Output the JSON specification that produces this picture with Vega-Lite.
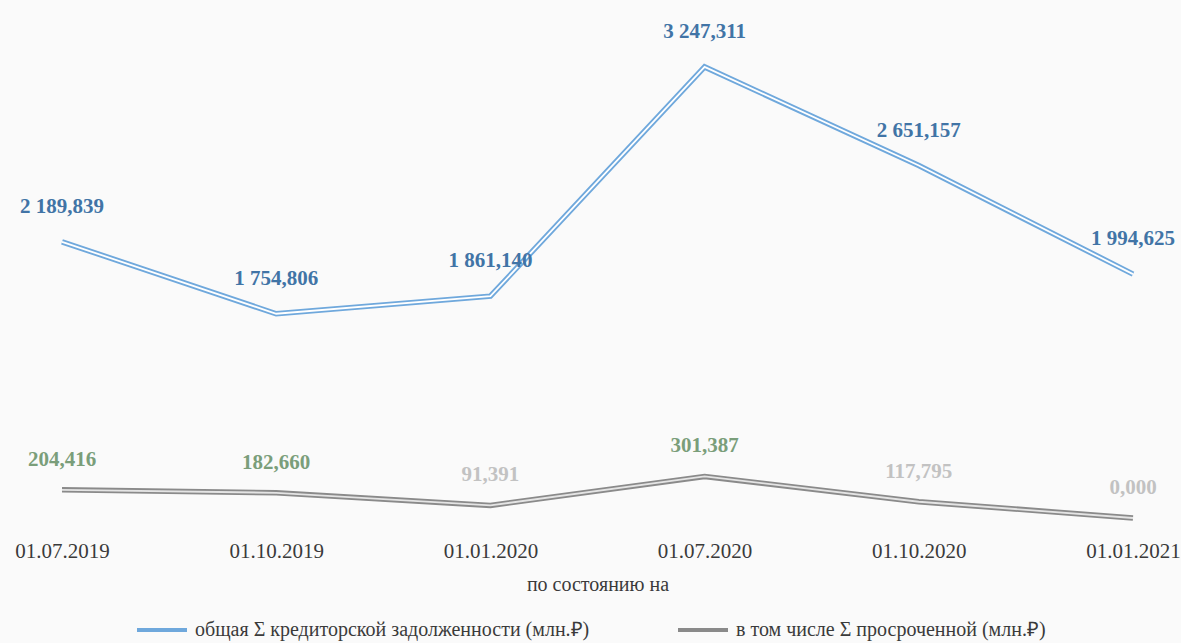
{
  "$schema": "https://vega.github.io/schema/vega-lite/v6.json",
  "width": 1181,
  "height": 538,
  "autosize": {"type": "none"},
  "padding": {"left": 0, "top": 0, "right": 0, "bottom": 105},
  "background": "#fafafa",
  "config": {
    "view": {"stroke": null},
    "locale": {"number": {"decimal": ",", "thousands": " ", "grouping": [3], "currency": ["", ""]}},
    "font": "Liberation Serif"
  },
  "data": {
    "values": [
      {"date": "01.07.2019", "series": "общая Σ кредиторской задолженности (млн.₽)", "value": 2189.839},
      {"date": "01.10.2019", "series": "общая Σ кредиторской задолженности (млн.₽)", "value": 1754.806},
      {"date": "01.01.2020", "series": "общая Σ кредиторской задолженности (млн.₽)", "value": 1861.140},
      {"date": "01.07.2020", "series": "общая Σ кредиторской задолженности (млн.₽)", "value": 3247.311},
      {"date": "01.10.2020", "series": "общая Σ кредиторской задолженности (млн.₽)", "value": 2651.157},
      {"date": "01.01.2021", "series": "общая Σ кредиторской задолженности (млн.₽)", "value": 1994.625},
      {"date": "01.07.2019", "series": "в том числе Σ просроченной (млн.₽)", "value": 204.416},
      {"date": "01.10.2019", "series": "в том числе Σ просроченной (млн.₽)", "value": 182.660},
      {"date": "01.01.2020", "series": "в том числе Σ просроченной (млн.₽)", "value": 91.391},
      {"date": "01.07.2020", "series": "в том числе Σ просроченной (млн.₽)", "value": 301.387},
      {"date": "01.10.2020", "series": "в том числе Σ просроченной (млн.₽)", "value": 117.795},
      {"date": "01.01.2021", "series": "в том числе Σ просроченной (млн.₽)", "value": 0.000}
    ]
  },
  "encoding": {
    "x": {
      "field": "date", "type": "ordinal", "sort": null,
      "scale": {"type": "point", "range": [62, 1133], "padding": 0},
      "axis": {
        "domain": false, "ticks": false, "labelAngle": 0,
        "labelFont": "Liberation Serif", "labelFontSize": 21, "labelColor": "#3a3a3a",
        "labelPadding": 2,
        "title": "по состоянию на", "titleFont": "Liberation Serif", "titleFontSize": 20,
        "titleFontWeight": "normal", "titleColor": "#3a3a3a", "titlePadding": 13
      }
    }
  },
  "resolve": {"scale": {"y": "independent"}},
  "layer": [
    {
      "transform": [{"filter": {"field": "series", "equal": "общая Σ кредиторской задолженности (млн.₽)"}}],
      "encoding": {
        "y": {"field": "value", "type": "quantitative",
              "scale": {"domain": [399, 3652], "nice": false, "zero": false}, "axis": null}
      },
      "layer": [
        {
          "mark": {"type": "line", "strokeWidth": 5.5},
          "encoding": {
            "color": {
              "field": "series", "type": "nominal",
              "scale": {
                "domain": ["общая Σ кредиторской задолженности (млн.₽)", "в том числе Σ просроченной (млн.₽)"],
                "range": ["#6fa8dc", "#8a8a8a"]
              },
              "legend": {
                "orient": "none", "direction": "horizontal", "legendX": 135, "legendY": 603,
                "title": null, "symbolType": "stroke", "symbolSize": 2500, "symbolStrokeWidth": 4,
                "labelFont": "Liberation Serif", "labelFontSize": 20, "labelColor": "#3a3a3a",
                "columnPadding": 80, "labelOffset": 6, "labelLimit": 600
              }
            }
          }
        },
        {"mark": {"type": "line", "strokeWidth": 1.8, "color": "#ffffff"}},
        {
          "mark": {"type": "text", "dy": -35, "fontWeight": "bold", "fontSize": 21,
                   "font": "Liberation Serif", "color": "#4174a6", "baseline": "middle"},
          "encoding": {"text": {"field": "value", "type": "quantitative", "format": ",.3f"}}
        }
      ]
    },
    {
      "transform": [{"filter": {"field": "series", "equal": "в том числе Σ просроченной (млн.₽)"}}],
      "encoding": {
        "y": {"field": "value", "type": "quantitative",
              "scale": {"domain": [-145, 3754], "nice": false, "zero": false}, "axis": null}
      },
      "layer": [
        {
          "mark": {"type": "line", "strokeWidth": 5.5},
          "encoding": {"color": {"field": "series", "type": "nominal"}}
        },
        {"mark": {"type": "line", "strokeWidth": 1.8, "color": "#e4e4e4"}},
        {
          "mark": {"type": "text", "dy": -30, "fontWeight": "bold", "fontSize": 21,
                   "font": "Liberation Serif", "baseline": "middle"},
          "encoding": {
            "text": {"field": "value", "type": "quantitative", "format": ",.3f"},
            "color": {"condition": {"test": "datum.value > 150", "value": "#7a9e7a"}, "value": "#c2c2c2"}
          }
        }
      ]
    }
  ]
}
